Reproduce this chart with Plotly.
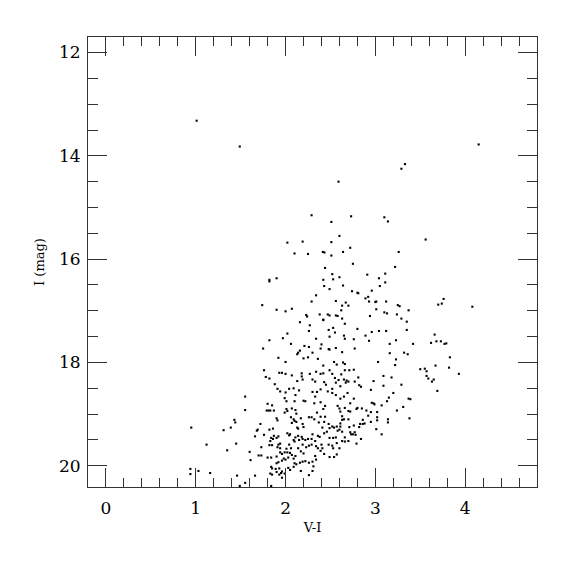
import plotly.graph_objects as go

# (V-I, I) pairs
pts_upper = [
(1.01,13.32),(1.49,13.82),(4.15,13.78),(3.33,14.16),(3.29,14.25),(2.59,14.50),(2.29,15.15),(2.73,15.17),(3.10,15.19),
(2.51,15.28),(3.14,15.27),(3.56,15.62),(2.02,15.68),(2.19,15.66),(2.51,15.67),(2.60,15.55),(2.10,15.89),(2.25,15.90),(2.415,15.86),(2.433,15.87),(2.51,15.93),(2.64,15.86),(2.72,15.78),(3.26,15.86),(2.75,16.09),(2.44,16.17),(3.22,16.15),
(1.82,16.43),(1.82,16.40),(1.90,16.37),(2.52,16.29),(2.42,16.40),(2.53,16.39),(2.60,16.35),(2.91,16.30),(3.04,16.37),(3.11,16.28),(3.11,16.45),(2.43,16.52),(2.49,16.58),(2.64,16.51),(3.05,16.52),(2.34,16.70),(2.29,16.82),(2.74,16.62),(2.80,16.65),(2.81,16.66),(2.96,16.61),(2.89,16.76),(2.92,16.73),(2.93,16.82),(3.00,16.83),(3.01,16.82),(3.12,16.82),(2.56,16.81),(2.67,16.84),(2.63,16.90),(2.70,16.90),(2.62,16.99),(3.25,16.89),(3.27,16.91),(3.37,16.99),(1.74,16.89),(1.90,16.98),(2.00,17.01),(2.07,16.96),(2.23,17.08),(2.24,17.11),(2.38,17.07),(2.42,17.17),(2.42,17.18),(2.47,17.07),(2.49,17.09),(2.56,17.09),(2.58,17.10),(2.63,17.15),(2.66,17.25),(2.94,17.10),(3.01,16.97),(3.10,17.03),(3.13,17.05),(3.24,17.07),(3.29,17.15),(3.35,17.21),(3.35,17.37),(3.42,17.64),(2.16,17.22),(2.27,17.28),(2.26,17.39),(2.48,17.37),(2.53,17.33),(2.55,17.42),(2.80,17.35),(2.89,17.48),(2.96,17.41),(3.04,17.39),(3.12,17.39),(2.02,17.44),(1.97,17.53),(1.82,17.57),(1.75,17.73),(2.06,17.64),(2.21,17.68),(2.26,17.70),(2.34,17.54),(2.40,17.65),(2.39,17.73),(2.49,17.50),(2.48,17.74),(2.56,17.72),(2.65,17.48),(2.66,17.54),(2.76,17.55),(2.77,17.73),(2.93,17.58),(3.16,17.64),(3.23,17.57),
]
pts_right = [
(4.08,16.92),(3.70,16.88),(3.74,16.86),(3.76,16.77),(3.66,17.46),(3.62,17.62),(3.68,17.59),(3.73,17.59),(3.77,17.64),(3.79,17.63),(3.83,17.90),(3.82,18.10),(3.93,18.22),(3.67,18.06),(3.50,18.13),(3.55,18.12),(3.57,18.17),(3.57,18.26),(3.59,18.31),(3.65,18.33),(3.63,18.37),(3.69,18.55),(3.36,17.84),(3.32,17.81),(3.23,17.94),(3.22,18.05),(3.29,18.43),(3.37,18.70),(3.39,18.71),(3.31,18.86),(3.24,18.93),(3.38,19.08),(3.20,18.59),(3.15,18.68),(3.13,18.75),(3.03,17.99),(3.09,18.26),(3.09,18.45),(3.18,18.29),(3.16,17.82),(2.63,17.80),
(2.98,18.36),(2.95,18.53),(2.81,18.29),(2.77,18.37),(2.82,18.44),(2.84,18.47),(2.76,18.14),(2.71,18.15),(2.66,18.15),(2.64,18.00),(2.66,18.03),(2.65,18.33),(2.68,18.35),(2.70,18.37),(2.67,18.39),(2.62,18.23),(2.61,18.46),(2.69,18.59),(2.65,18.66),(2.76,18.70),(2.61,18.70),(2.72,18.79),(2.96,18.78),(2.98,18.79),(2.99,18.81),(3.07,18.83),(2.85,18.89),(2.90,18.93),(2.79,18.90),(2.80,18.88),(2.66,18.88),(2.70,18.94),(2.72,18.95),(2.61,18.95),(2.63,19.04),(2.95,18.96),(3.02,18.96),(2.92,19.03),(3.02,19.06),(3.02,19.12),(3.14,19.10),(3.14,19.16),(2.86,19.11),(2.88,19.18),(2.83,19.19),(2.86,19.19),(2.95,19.15),(2.70,19.10),(2.65,19.10),(2.63,19.11),(2.76,19.22),(2.71,19.25),(2.82,19.25),(3.01,19.29),(2.72,19.35),(2.75,19.39),(2.77,19.35),(2.78,19.40),(2.73,19.39),(3.07,19.39),(2.84,19.48),(2.79,19.57),(2.66,19.45),(2.63,19.52),(2.70,19.52),(2.66,19.53),(2.61,19.24),(2.63,19.34),(2.61,19.18),
]
pts_core = [
(2.14,17.81),(2.13,17.84),(2.16,17.77),(2.25,17.90),(2.20,17.92),(2.30,17.81),(2.42,18.06),(2.49,17.75),(2.36,17.93),(2.54,17.99),(2.57,18.04),(2.00,17.99),(1.92,17.91),(1.76,18.15),(1.82,18.31),(1.78,18.28),(1.93,18.20),(1.96,18.20),(2.00,18.22),(2.07,18.25),(2.18,18.21),(2.18,18.27),(2.19,18.33),(2.13,18.36),(2.27,18.22),(2.30,18.33),(2.33,18.37),(2.34,18.18),(2.39,18.22),(2.42,18.21),(2.43,18.38),(2.49,18.15),(2.52,18.22),(2.55,18.30),(2.56,18.39),(2.59,18.34),(1.88,18.42),(1.91,18.51),(1.94,18.56),(2.00,18.58),(2.04,18.51),(2.09,18.50),(2.15,18.54),(2.11,18.63),(1.99,18.69),(2.01,18.75),(2.22,18.75),(2.20,18.74),(2.10,18.75),(2.30,18.57),(2.33,18.66),(2.35,18.57),(2.39,18.52),(2.45,18.43),(2.47,18.56),(2.52,18.51),(2.52,18.59),(2.56,18.63),(2.32,18.79),(2.39,18.77),(2.44,18.84),(2.42,18.90),(2.58,18.84),(2.60,18.89),(1.80,18.80),(1.85,18.83),(1.87,18.93),(1.79,18.93),(1.81,18.93),(1.83,18.93),(1.90,19.08),(1.91,19.12),(2.01,18.90),(2.02,18.94),(1.99,18.97),(2.07,18.89),(2.11,18.92),(2.12,18.99),(2.06,19.06),(2.09,19.10),(2.10,19.13),(2.07,19.17),(2.12,19.15),(2.13,19.26),(2.14,19.28),(2.17,19.08),(2.19,19.19),(2.20,19.25),(2.26,19.06),(2.29,19.06),(2.32,19.10),(2.35,18.97),(2.39,19.05),(2.37,19.16),(2.44,19.05),(2.43,19.15),(2.41,19.26),(2.48,19.19),(2.49,19.27),(2.52,19.24),(2.54,19.26),(2.57,19.24),(2.58,19.32),(2.60,19.30),
(0.95,19.26),(1.12,19.59),(1.31,19.31),(1.39,19.26),(1.43,19.11),(1.44,19.16),(1.35,19.70),(1.45,19.57),(1.55,18.66),(1.55,18.92),(1.60,19.73),(1.61,19.89),(1.66,19.43),(1.68,19.32),(1.72,19.19),(1.69,19.30),(1.73,19.64),(1.73,19.80),(1.70,19.80),(1.76,19.40),(1.82,19.30),(1.86,19.28),(1.84,19.46),(1.83,19.52),(1.86,19.48),(1.82,19.60),(1.85,19.60),(1.90,19.46),(1.92,19.43),(1.87,19.42),(1.92,19.59),(1.94,19.57),(1.91,19.64),(1.94,19.66),(1.80,19.84),(1.84,19.84),(1.90,19.82),(1.94,19.74),(1.96,19.77),(1.99,19.74),(1.92,19.93),(1.90,19.95),(1.96,19.90),(1.98,19.86),(2.00,19.88),(2.03,19.84),(1.84,20.02),(1.85,20.05),(1.83,20.15),(1.85,20.17),(1.89,20.06),(1.93,20.05),(1.90,20.12),(1.95,20.14),(1.93,20.17),(1.96,20.11),(1.99,20.15),(1.96,20.23),(2.01,19.67),(2.02,19.74),(2.06,19.66),(2.04,19.59),(2.05,19.75),(2.07,19.79),(2.09,19.86),(2.11,19.81),(2.09,19.50),(2.11,19.45),(2.14,19.42),(2.15,19.50),(2.02,19.37),(2.04,19.41),(2.05,19.39),(2.18,19.44),(2.19,19.48),(2.22,19.50),(2.25,19.48),(2.19,19.59),(2.23,19.64),(2.26,19.61),(2.29,19.59),(2.14,19.66),(2.17,19.72),(2.20,19.76),(2.10,19.95),(2.09,20.02),(2.12,19.97),(2.16,19.94),(2.19,19.92),(2.22,19.91),(2.26,19.94),(2.03,20.04),(2.05,20.08),(2.26,20.18),(1.84,20.39),(2.10,19.53),(2.29,19.48),(2.30,19.39),(2.33,19.52),(2.36,19.42),(2.38,19.44),(2.34,19.62),(2.36,19.66),(2.40,19.59),(2.41,19.66),(2.39,19.71),(2.33,19.81),(2.30,19.92),(2.34,19.88),(2.43,19.37),(2.46,19.34),(2.49,19.46),(2.53,19.46),(2.56,19.45),(2.57,19.56),(2.48,19.59),(2.52,19.61),(2.53,19.66),(2.43,19.77),(2.49,19.83),(2.54,19.83),(2.57,19.78),(2.60,19.66),
(0.94,20.06),(0.94,20.16),(1.03,20.10),(1.16,20.14),(1.46,20.19),(1.55,20.33),(1.49,20.39),(1.66,20.19),
(2.31,20.01),(2.30,20.10),(2.17,20.10),
]

pts = pts_upper + pts_right + pts_core
v_minus_i = [p[0] for p in pts]
i_mag = [p[1] for p in pts]

x_ticks = [0, 1, 2, 3, 4]
y_ticks = [12, 14, 16, 18, 20]

FONT = "DejaVu Serif"
AX = "#333333"

fig = go.Figure(go.Scatter(
    x=v_minus_i, y=i_mag, mode="markers",
    marker=dict(symbol="square", size=2.1, color="black", line=dict(width=0)),
    hoverinfo="skip",
))

fig.update_layout(
    width=575, height=575,
    margin=dict(l=80, r=46, t=29, b=96, autoexpand=False),
    paper_bgcolor="white", plot_bgcolor="white",
    showlegend=False,
    font=dict(family=FONT, color="black"),
)
fig.update_xaxes(
    range=[-0.2, 4.8], tickvals=x_ticks, ticktext=[str(t) for t in x_ticks],
    showgrid=False, zeroline=False, showline=True, linecolor=AX, linewidth=1,
    mirror="allticks", ticks="inside", ticklen=19, tickcolor=AX, tickwidth=1,
    minor=dict(ticks="inside", ticklen=9, dtick=0.2, tick0=0, tickcolor=AX, showgrid=False),
    tickfont=dict(family=FONT, size=17), ticklabelstandoff=6,
    title=dict(text="V-I", font=dict(family=FONT, size=13), standoff=5),
)
fig.update_yaxes(
    range=[20.41, 11.7], tickvals=y_ticks, ticktext=[str(t) for t in y_ticks],
    showgrid=False, zeroline=False, showline=True, linecolor=AX, linewidth=1,
    mirror="allticks", ticks="inside", ticklen=19, tickcolor=AX, tickwidth=1,
    minor=dict(ticks="inside", ticklen=10, dtick=0.5, tick0=0, tickcolor=AX, showgrid=False),
    tickfont=dict(family=FONT, size=17), ticklabelstandoff=3,
    title=dict(text="I (mag)", font=dict(family=FONT, size=13), standoff=11),
)

fig.write_html("out.html")
